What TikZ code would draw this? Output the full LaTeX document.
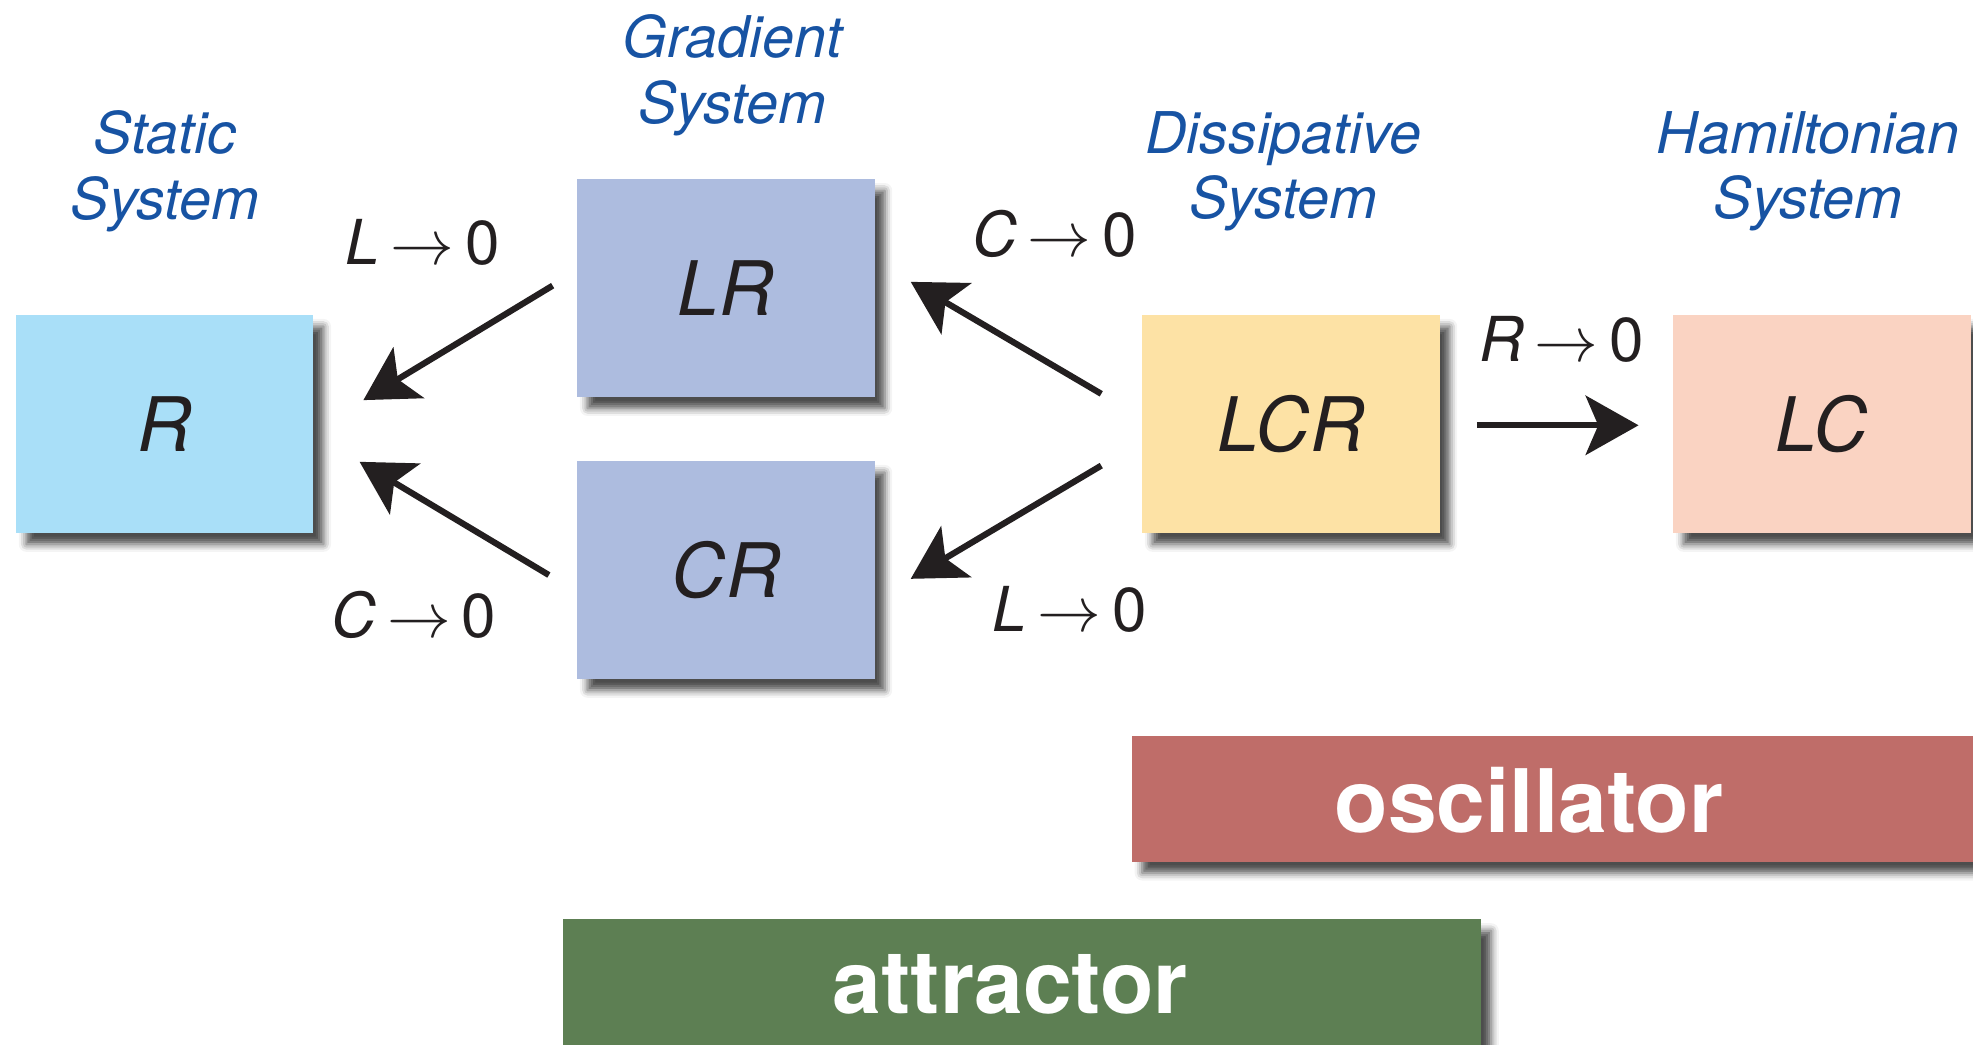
\documentclass[tikz,border=0pt]{standalone}
\usepackage{fontspec}
\setmainfont{TeX Gyre Heros}
\usetikzlibrary{arrows.meta,shadows.blur}

\definecolor{encre}{HTML}{231F20}
\definecolor{bleutitre}{HTML}{1753A3}
\definecolor{bleuR}{HTML}{A9DFF8}
\definecolor{bleuLR}{HTML}{ADBCDF}
\definecolor{jauneLCR}{HTML}{FDE2A5}
\definecolor{roseLC}{HTML}{FAD3C2}
\definecolor{rougeosc}{HTML}{BF6D69}
\definecolor{vertatt}{HTML}{5D7F53}

\newcommand{\tendvers}[1]{\textit{#1}$\,\rightarrow\,$0}

\begin{document}
\begin{tikzpicture}[x=0.01cm,y=-0.01cm]
\tikzset{ombre/.style={blur shadow={shadow xshift=0.08cm, shadow yshift=-0.09cm, shadow blur radius=0.06cm, shadow opacity=70}},
  boite/.style={ombre, minimum width=2.36cm, minimum height=1.73cm, inner sep=0pt, text=encre, font=\fontsize{17}{20}\selectfont\itshape},
  bande/.style={ombre, minimum height=1.0cm, inner sep=0pt},
  bandetexte/.style={text=white, inner sep=0pt, font=\fontsize{19.8}{22}\selectfont\bfseries},
  titre/.style={align=center, text=bleutitre, inner sep=0pt, font=\fontsize{13}{14.8}\selectfont\itshape},
  cond/.style={text=encre, inner sep=0pt, font=\fontsize{14}{16}\selectfont},
  fleche/.style={draw=encre, line width=1.4pt, -{Stealth[length=4.2mm, width=4.7mm, inset=1mm]}}}
\useasboundingbox (0,0) rectangle (1568,830);
\clip (0,0) rectangle (1568,830);
% les bandes du bas
\node[bande, fill=rougeosc, minimum width=7.3cm, anchor=north west] (oscbande) at (899,584) {};
\node[bandetexte] (osc) at (1215,636) {oscillator};
\node[bande, fill=vertatt, minimum width=7.29cm, anchor=north west] (attbande) at (447,730) {};
\node[bandetexte] (att) at (803,782) {attractor};
% les systemes
\node[boite, fill=bleuR] (R) at (131,337) {R};
\node[boite, fill=bleuLR] (LR) at (577,229) {LR};
\node[boite, fill=bleuLR] (CR) at (577,453) {CR};
\node[boite, fill=jauneLCR] (LCR) at (1026,337) {LCR};
\node[boite, fill=roseLC] (LC) at (1448,337) {LC};
\node[titre] (tR) at (131,136) {Static\\System};
\node[titre] (tLR) at (582,60) {Gradient\\System};
\node[titre] (tLCR) at (1020,136) {Dissipative\\System};
\node[titre] (tLC) at (1437,136) {Hamiltonian\\System};
% les limites
\node[cond] (cL1) at (336,193) {\tendvers{L}};
\node[cond] (cC1) at (329,489) {\tendvers{C}};
\node[cond] (cC2) at (838,186) {\tendvers{C}};
\node[cond] (cL2) at (850,484) {\tendvers{L}};
\node[cond] (cR) at (1241,270) {\tendvers{R}};
\draw[fleche] ([xshift=-0.19cm,yshift=0.02cm]LR.west) -- ([xshift=0.39cm,yshift=0.19cm]R.east);
\draw[fleche] ([xshift=-0.22cm,yshift=-0.04cm]CR.west) -- ([xshift=0.36cm,yshift=-0.30cm]R.east);
\draw[fleche] ([xshift=-0.32cm,yshift=0.24cm]LCR.west) -- ([xshift=0.28cm,yshift=0.05cm]LR.east);
\draw[fleche] ([xshift=-0.32cm,yshift=-0.33cm]LCR.west) -- ([xshift=0.28cm,yshift=-0.07cm]CR.east);
\draw[fleche] ([xshift=0.29cm,yshift=-0.01cm]LCR.east) -- ([xshift=-0.27cm,yshift=-0.01cm]LC.west);
\end{tikzpicture}
\end{document}
